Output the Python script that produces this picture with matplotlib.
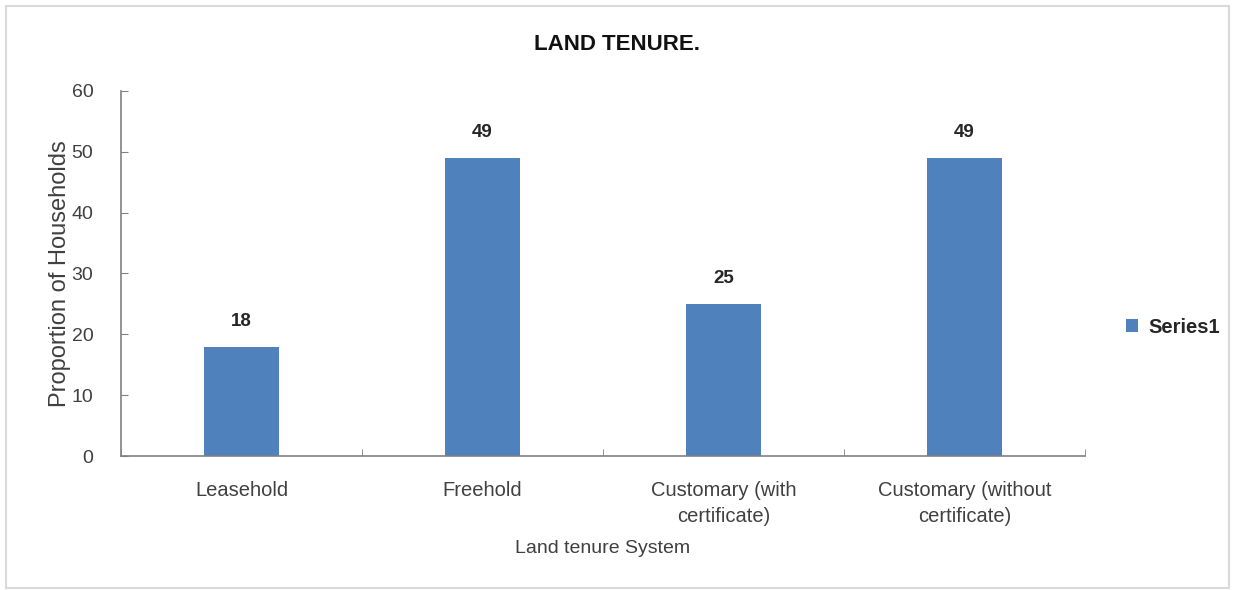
import matplotlib
matplotlib.use("Agg")
import matplotlib.pyplot as plt
from matplotlib.patches import Rectangle
import numpy as np

categories = ["Leasehold", "Freehold", "Customary (with\ncertificate)", "Customary (without\ncertificate)"]
values = [18, 49, 25, 49]
yticks = [0, 10, 20, 30, 40, 50, 60]
series_name = "Series1"
title = "LAND TENURE."
xlabel = "Land tenure System"
ylabel = "Proportion of Households"

plt.rcParams['font.family'] = ['Liberation Sans', 'DejaVu Sans']

fig = plt.figure(figsize=(12.35, 5.9), dpi=100)
fig.patch.set_facecolor('white')
fig.add_artist(Rectangle((0.005, 0.004), 0.99, 0.985, transform=fig.transFigure,
                         fill=False, edgecolor='#d9d9d9', linewidth=1.5))

ax = fig.add_axes([0.098, 0.227, 0.7805, 0.619])
x = np.arange(len(categories))
bars = ax.bar(x, values, width=0.31, color='#4F81BD', label=series_name, zorder=2)

ax.set_xlim(-0.5, len(categories) - 0.5)
ax.set_ylim(0, 60)
ax.set_yticks(yticks)
ax.set_yticklabels([str(t) for t in yticks], fontsize=14, color='#404040')
ax.set_xticks(x)
ax.set_xticklabels(categories, fontsize=14.5, color='#404040', linespacing=1.45)
ax.tick_params(axis='x', length=0, pad=18)
ax.set_xticks(np.arange(-0.5, len(categories)), minor=True)
ax.tick_params(axis='x', which='minor', direction='in', length=5, color='#808080')
ax.tick_params(axis='y', direction='in', length=5, color='#808080', pad=20)

for s in ['top', 'right']:
    ax.spines[s].set_visible(False)
for s in ['left', 'bottom']:
    ax.spines[s].set_color('#808080')
    ax.spines[s].set_linewidth(1.2)

for b, v in zip(bars, values):
    ax.annotate(str(v), (b.get_x() + b.get_width() / 2, v), xytext=(0, 12),
                textcoords='offset points', ha='center', va='bottom',
                fontsize=13.5, fontweight='bold', color='#262626')

ax.set_xlabel(xlabel, fontsize=14, color='#404040', labelpad=10)
ax.set_ylabel(ylabel, fontsize=17, color='#404040', labelpad=0)

fig.text(0.5, 0.925, title, ha='center', va='center', fontsize=16, fontweight='bold', color='#111111')

leg = fig.legend(handles=[bars], labels=[series_name], loc='center left',
                 bbox_to_anchor=(0.897, 0.445), frameon=False,
                 handlelength=0.6, handleheight=0.6, handletextpad=0.5,
                 prop={'weight': 'bold', 'size': 14.5})
for t in leg.get_texts():
    t.set_color('#262626')

fig.savefig("out.png", dpi=100, facecolor='white')
